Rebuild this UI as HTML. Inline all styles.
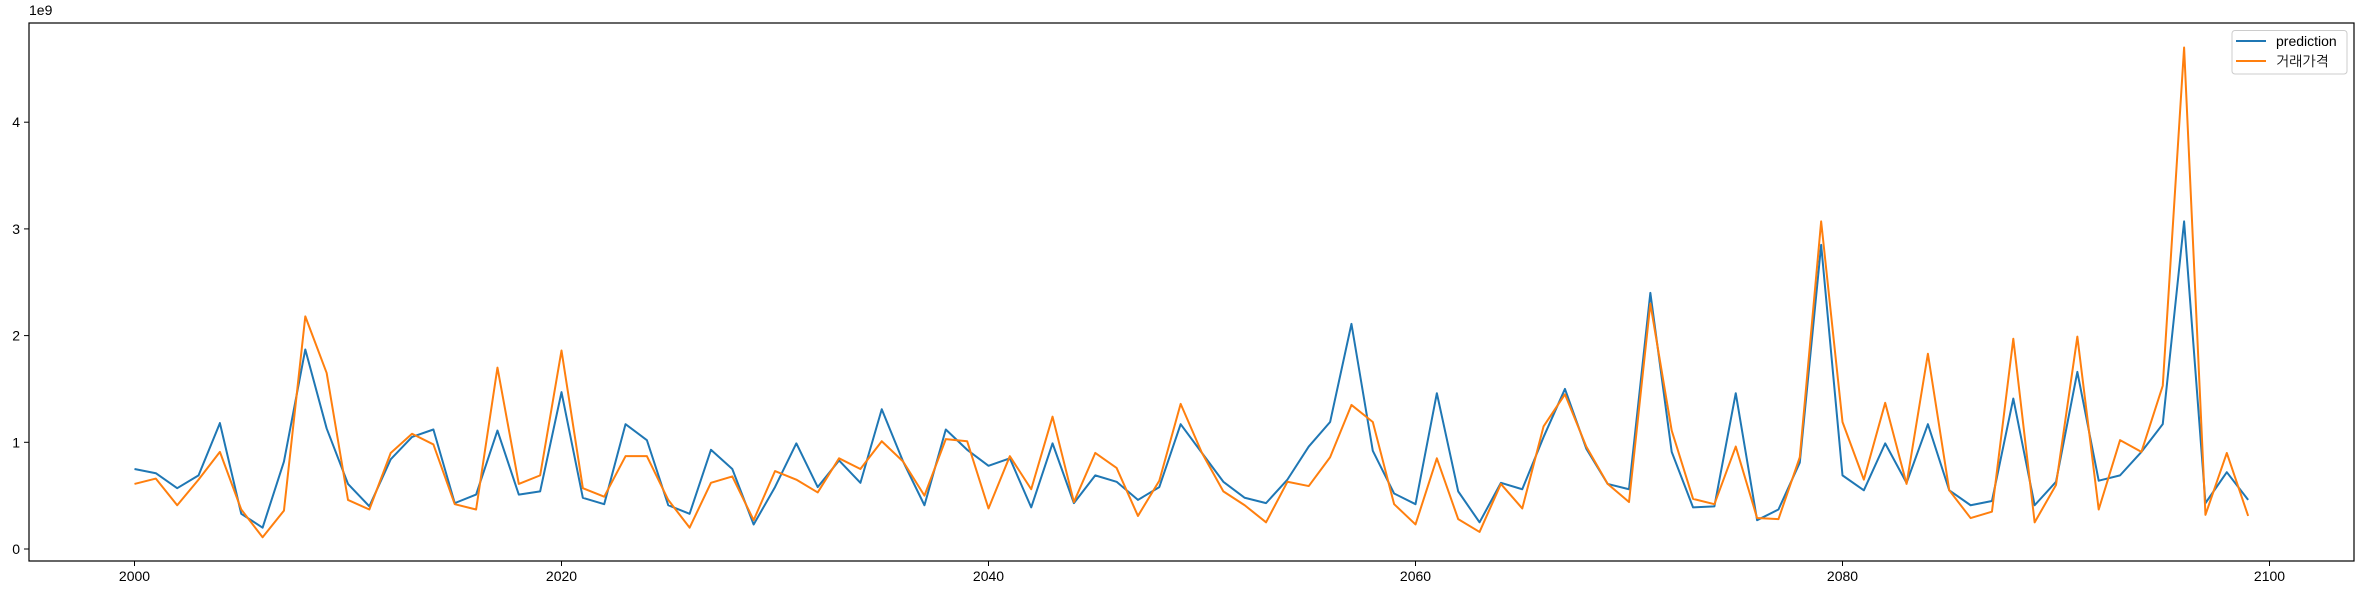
<!DOCTYPE html>
<html><head><meta charset="utf-8">
<style>
html,body{margin:0;padding:0;background:#fff;}
svg{display:block;}
text{font-family:"Liberation Sans","NanumGothic","Noto Sans CJK KR",sans-serif;font-size:14px;fill:#000;}
</style></head>
<body>
<svg id="chart" width="2363" height="595" viewBox="0 0 2363 595" xmlns="http://www.w3.org/2000/svg">
<rect x="0" y="0" width="2363" height="595" fill="#fff"/>
<g id="xticks"></g>
<g id="yticks"></g>
<text x="29" y="15">1e9</text>
<g id="series"></g>
<rect x="29" y="23" width="2325" height="538" fill="none" stroke="#000" stroke-width="1.2"/>
<g>
<rect x="2232" y="30.5" width="115" height="43.5" rx="3" fill="#fff" fill-opacity="0.8" stroke="#ccc"/>
<line x1="2236" y1="41" x2="2266" y2="41" stroke="#1f77b4" stroke-width="2"/>
<text x="2276" y="46">prediction</text>
<line x1="2236" y1="61" x2="2266" y2="61" stroke="#ff7f0e" stroke-width="2"/>
<text x="2276" y="66">거래가격</text>
</g>
</svg>
<script>
const xTickLabels = [2000, 2020, 2040, 2060, 2080, 2100];
const yTickLabels = [0, 1, 2, 3, 4];
const startYear = 2000;
const prediction = [0.75,0.71,0.57,0.69,1.18,0.33,0.20,0.82,1.87,1.13,
0.61,0.40,0.84,1.05,1.12,0.43,0.51,1.11,0.51,0.54,
1.47,0.48,0.42,1.17,1.02,0.41,0.33,0.93,0.75,0.23,
0.58,0.99,0.58,0.83,0.62,1.31,0.82,0.41,1.12,0.93,
0.78,0.85,0.39,0.99,0.43,0.69,0.63,0.46,0.58,1.17,
0.90,0.63,0.48,0.43,0.65,0.96,1.19,2.11,0.92,0.52,
0.42,1.46,0.54,0.25,0.62,0.56,1.05,1.50,0.94,0.61,
0.56,2.40,0.91,0.39,0.40,1.46,0.27,0.37,0.81,2.85,
0.69,0.55,0.99,0.62,1.17,0.55,0.41,0.45,1.41,0.41,
0.63,1.66,0.64,0.69,0.91,1.17,3.07,0.43,0.72,0.46];
const price = [0.61,0.66,0.41,0.65,0.91,0.37,0.11,0.36,2.18,1.65,
0.46,0.37,0.90,1.08,0.98,0.42,0.37,1.70,0.61,0.69,
1.86,0.57,0.49,0.87,0.87,0.46,0.20,0.62,0.68,0.27,
0.73,0.65,0.53,0.85,0.75,1.01,0.82,0.50,1.03,1.01,
0.38,0.87,0.56,1.24,0.44,0.90,0.76,0.31,0.64,1.36,
0.90,0.54,0.41,0.25,0.63,0.59,0.86,1.35,1.19,0.42,
0.23,0.85,0.28,0.16,0.61,0.38,1.15,1.45,0.96,0.61,
0.44,2.30,1.11,0.47,0.42,0.96,0.29,0.28,0.86,3.07,
1.19,0.65,1.37,0.61,1.83,0.55,0.29,0.35,1.97,0.25,
0.60,1.99,0.37,1.02,0.91,1.53,4.70,0.32,0.90,0.31];

const NS = 'http://www.w3.org/2000/svg';
const xScale = yr => 134.5 + (yr - 2000) * 21.35;
const yScale = v => 549 - v * 106.7;

const xt = document.getElementById('xticks');
xTickLabels.forEach(t => {
  const x = xScale(t);
  const l = document.createElementNS(NS, 'line');
  l.setAttribute('x1', x); l.setAttribute('x2', x);
  l.setAttribute('y1', 561); l.setAttribute('y2', 566);
  l.setAttribute('stroke', '#000');
  
  
  xt.appendChild(l);
  const tx = document.createElementNS(NS, 'text');
  tx.setAttribute('x', x); tx.setAttribute('y', 581);
  tx.setAttribute('text-anchor', 'middle');
  tx.textContent = t;
  
  
  xt.appendChild(tx);
});
const yt = document.getElementById('yticks');
yTickLabels.forEach(t => {
  const y = yScale(t);
  const l = document.createElementNS(NS, 'line');
  l.setAttribute('x1', 24); l.setAttribute('x2', 29);
  l.setAttribute('y1', y); l.setAttribute('y2', y);
  l.setAttribute('stroke', '#000');
  
  
  yt.appendChild(l);
  const tx = document.createElementNS(NS, 'text');
  tx.setAttribute('x', 20); tx.setAttribute('y', y + 5);
  tx.setAttribute('text-anchor', 'end');
  tx.textContent = t;
  
  
  yt.appendChild(tx);
});
const sg = document.getElementById('series');
function drawLine(vals, color, name) {
  const p = document.createElementNS(NS, 'polyline');
  p.setAttribute('points', vals.map((v, i) => xScale(startYear + i).toFixed(2) + ',' + yScale(v).toFixed(2)).join(' '));
  p.setAttribute('fill', 'none');
  p.setAttribute('stroke', color);
  p.setAttribute('stroke-width', '2');
  p.setAttribute('stroke-linejoin', 'round');
  
  
  sg.appendChild(p);
}
drawLine(prediction, '#1f77b4', 'prediction-line');
drawLine(price, '#ff7f0e', 'price-line');
</script>
</body></html>
